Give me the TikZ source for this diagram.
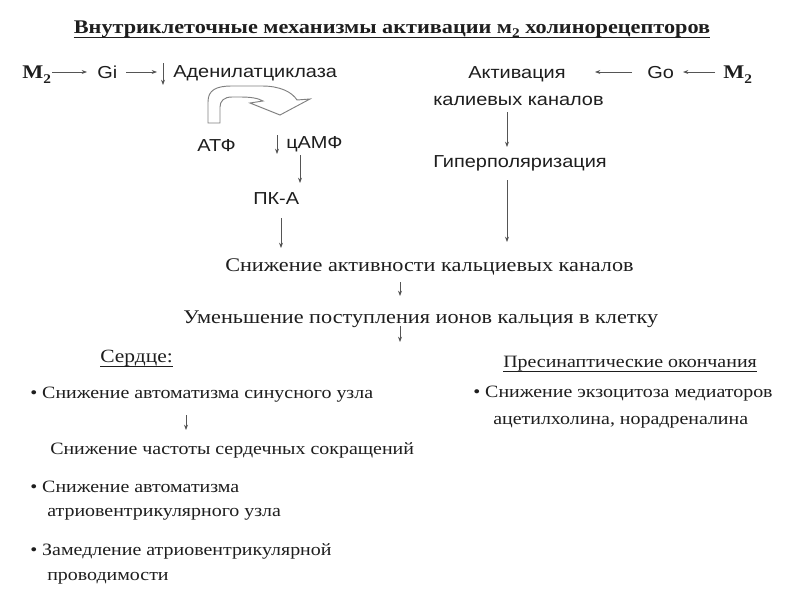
\documentclass[tikz,border=0pt]{standalone}
\usepackage{fontspec}
\setmainfont[FakeStretch=1.15]{Liberation Serif}
\newfontfamily\sanf[FakeStretch=1.15]{Liberation Sans}
\usetikzlibrary{arrows.meta}
\definecolor{txt}{HTML}{1E1E1E}
\definecolor{ln}{HTML}{555555}
\begin{document}
\begin{tikzpicture}[x=0.75pt,y=-0.75pt,
  every node/.style={inner sep=0pt,text=txt},
  ser/.style={font=\fontsize{13}{15}\selectfont},
  big/.style={font=\fontsize{14.5}{17}\selectfont},
  hdr/.style={font=\fontsize{14}{16}\selectfont},
  san/.style={font=\sanf\fontsize{13}{15}\selectfont},
  ttl/.style={font=\bfseries\fontsize{14.5}{17}\selectfont},
  mm/.style={font=\bfseries\fontsize{14.5}{17}\selectfont},
  arr/.style={draw=ln,line width=0.6pt,-{Stealth[length=4pt,width=3pt]}},
  uline/.style={draw=txt,line width=0.6pt},
  bigarrow/.style={draw=gray,line width=0.7pt,fill=white}]
\useasboundingbox[fill=white] (0,0) rectangle (800,600);

% title
\node[ttl,anchor=base] (title) at (392,33) {Внутриклеточные механизмы активации м\raisebox{-0.5ex}{\fontsize{10}{10}\selectfont 2} холинорецепторов};
\draw[uline] ([yshift=-3pt]title.base west) -- ([yshift=-3pt]title.base east);

% left row
\node[mm,anchor=base west] (m2l) at (22,78) {М\raisebox{-0.6ex}{\fontsize{10}{10}\selectfont 2}};
\node[san,anchor=base west] (gi) at (97,78) {Gi};
\node[san,anchor=base west] (adc) at (173,77) {Аденилатциклаза};
\coordinate (a1s) at (52,72); \coordinate (a1e) at (87,72);
\coordinate (a2s) at (126,72); \coordinate (a2e) at (157,72);
\coordinate (a3s) at (163,63); \coordinate (a3e) at (163,85);
\draw[arr] (a1s) -- (a1e);
\draw[arr] (a2s) -- (a2e);
\draw[arr] (a3s) -- (a3e);

% curved block arrow
\draw[bigarrow] (208,123) -- (208,102) .. controls (208,90) and (216,86) .. (232,86)
  -- (262,86) .. controls (280,86) and (292,92) .. (297,100) -- (310,99) -- (280,115)
  -- (250,103) -- (263,101) .. controls (258,98) and (250,97) .. (240,97) -- (232,97)
  .. controls (224,97) and (220,101) .. (220,107) -- (220,123) -- cycle;

\node[san,anchor=base west] (atf) at (197,151) {АТФ};
\node[san,anchor=base west] (camf) at (286,148) {цАМФ};
\node[san,anchor=base west] (pka) at (253,204) {ПК-А};
\coordinate (a4s) at (277,135); \coordinate (a4e) at (277,154);
\coordinate (a5s) at (300,155); \coordinate (a5e) at (300,183);
\coordinate (a6s) at (281,218); \coordinate (a6e) at (281,248);
\draw[arr] (a4s) -- (a4e);
\draw[arr] (a5s) -- (a5e);
\draw[arr] (a6s) -- (a6e);

% right column
\node[san,anchor=base west] (akt) at (468,78) {Активация};
\node[san,anchor=base west] (kal) at (433,105) {калиевых каналов};
\node[san,anchor=base west] (go) at (647,78) {Go};
\node[mm,anchor=base west] (m2r) at (723,78) {М\raisebox{-0.6ex}{\fontsize{10}{10}\selectfont 2}};
\node[san,anchor=base west] (gip) at (433,167) {Гиперполяризация};
\coordinate (b1s) at (715,72); \coordinate (b1e) at (683,72);
\coordinate (b2s) at (632,72); \coordinate (b2e) at (595,72);
\coordinate (b3s) at (507,112); \coordinate (b3e) at (507,147);
\coordinate (b4s) at (507,180); \coordinate (b4e) at (507,242);
\draw[arr] (b1s) -- (b1e);
\draw[arr] (b2s) -- (b2e);
\draw[arr] (b3s) -- (b3e);
\draw[arr] (b4s) -- (b4e);

% middle
\node[big,anchor=base west] (sca) at (225,271) {Снижение активности кальциевых каналов};
\node[big,anchor=base west] (umen) at (183,323) {Уменьшение поступления ионов кальция в клетку};
\coordinate (c1s) at (400,282); \coordinate (c1e) at (400,296);
\coordinate (c2s) at (400,326); \coordinate (c2e) at (400,342);
\draw[arr] (c1s) -- (c1e);
\draw[arr] (c2s) -- (c2e);

% heart
\node[hdr,anchor=base west] (serd) at (100,362) {Сердце:};
\draw[uline] ([yshift=-3pt]serd.base west) -- ([yshift=-3pt]serd.base east);
\node[ser,anchor=base west] (h1) at (30,398) {• Снижение автоматизма синусного узла};
\node[ser,anchor=base west] (h2) at (50,454) {Снижение частоты сердечных сокращений};
\coordinate (d1s) at (186,415); \coordinate (d1e) at (186,430);
\draw[arr] (d1s) -- (d1e);
\node[ser,anchor=base west] (h3) at (30,492) {• Снижение автоматизма};
\node[ser,anchor=base west] (h3b) at (47,516) {атриовентрикулярного узла};
\node[ser,anchor=base west] (h4) at (30,555) {• Замедление атриовентрикулярной};
\node[ser,anchor=base west] (h4b) at (47,580) {проводимости};

% presynaptic
\node[ser,anchor=base west] (pres) at (503,367) {Пресинаптические окончания};
\draw[uline] ([yshift=-3pt]pres.base west) -- ([yshift=-3pt]pres.base east);
\node[ser,anchor=base west] (p1) at (473,397) {• Снижение экзоцитоза медиаторов};
\node[ser,anchor=base west] (p1b) at (493,424) {ацетилхолина, норадреналина};
\end{tikzpicture}
\end{document}
